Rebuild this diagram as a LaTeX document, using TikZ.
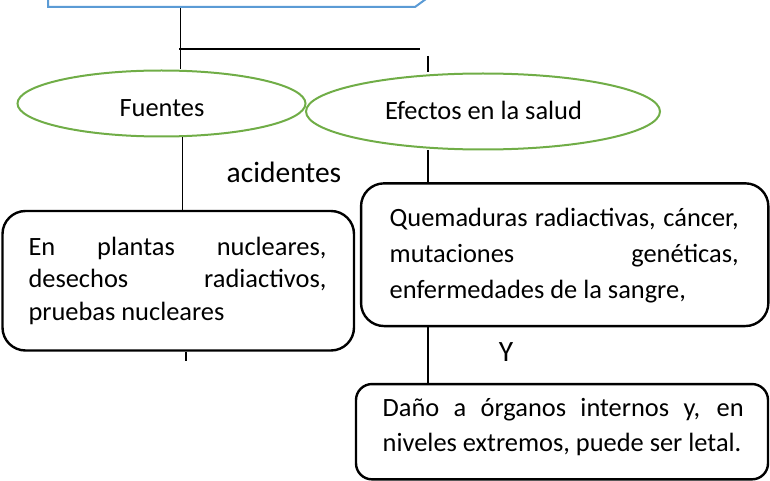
\documentclass[tikz,border=0pt]{standalone}
\usepackage{fontspec}
\setmainfont{Carlito}
\usetikzlibrary{shapes.geometric}
\definecolor{officeblue}{HTML}{5B9BD5}
\definecolor{officegreen}{HTML}{70AD47}
\newcommand{\jline}[1]{\makebox[\linewidth][s]{#1}}
\begin{document}
\begin{tikzpicture}[x=1pt,y=-1pt,
  oval/.style={ellipse,draw=officegreen,line width=2pt,inner sep=0pt},
  rbox/.style={rectangle,draw=black,line width=2.4pt,inner sep=0pt},
  conn/.style={draw=black,line width=1.1pt},
  txt/.style={inner sep=0pt,anchor=base,font=\fontsize{26.4}{32}\selectfont},
  bigtxt/.style={inner sep=0pt,anchor=base,font=\fontsize{29.5}{35}\selectfont},
  boxtxt/.style={inner sep=0pt,anchor=base west}]
\useasboundingbox (0,0) rectangle (770,481);
\clip (0,0) rectangle (770,481);
% top (partly visible) title shape
\draw[officeblue,line width=2pt] (48,-10) -- (48,7) -- (415,7) -- (428,-2.5);
\coordinate (topb) at (180.5,8);
\coordinate (hl) at (179,49);
\coordinate (hr) at (420,49);
\coordinate (v2) at (428,56);
% ellipses
\node[oval,minimum width=288pt,minimum height=66pt] (e1) at (161.5,103.5) {};
\node[oval,minimum width=354pt,minimum height=76pt] (e2) at (483,111.5) {};
% boxes
\node[rbox,rounded corners=23pt,minimum width=351.5pt,minimum height=139.5pt] (b1) at (178.25,280.75) {};
\node[rbox,rounded corners=23pt,minimum width=407.3pt,minimum height=142.7pt] (b2) at (564.7,254.7) {};
\node[rbox,rounded corners=16pt,minimum width=412pt,minimum height=95.3pt] (b3) at (562,431.7) {};
% connectors
\draw[conn] (topb) -- (topb |- e1.north);
\draw[conn] (hl) -- (hr);
\draw[conn] (v2) -- (v2 |- e2.north);
\draw[conn] ([xshift=21pt]e1.south) -- ([xshift=21pt]e1.south |- b1.north);
\draw[conn] ([xshift=-55pt]e2.south) -- ([xshift=-55pt]e2.south |- b2.north);
\draw[conn] ([xshift=-136.7pt]b2.south) -- ([xshift=-136.7pt]b2.south |- b3.north);
\draw[conn] ([xshift=7.75pt]b1.south) -- ++(0,9);
% texts
\node[txt] (t1) at (162,116.7) {Fuentes};
\node[txt] (t2) at (483.5,120) {Efectos en la salud};
\node[bigtxt] (t3) at (284,182.7) {acidentes};
\node[bigtxt] (t4) at (506,361.7) {Y};
\node[boxtxt] (p1) at (28.3,255) {\parbox[t]{298pt}{\fontsize{26.4}{32.5}\selectfont
  \jline{En plantas nucleares,}\\
  \jline{desechos radiactivos,}\\
  pruebas nucleares}};
\node[boxtxt] (p2) at (389.5,226) {\parbox[t]{349pt}{\fontsize{26.4}{36.2}\selectfont
  \jline{Quemaduras radiactivas, cáncer,}\\
  \jline{mutaciones genéticas,}\\
  enfermedades de la sangre,}};
\node[boxtxt] (p3) at (382.5,416.7) {\parbox[t]{361pt}{\fontsize{26.4}{35}\selectfont
  \jline{Daño a órganos internos y, en}\\
  niveles extremos, puede ser letal.}};
\end{tikzpicture}
\end{document}
